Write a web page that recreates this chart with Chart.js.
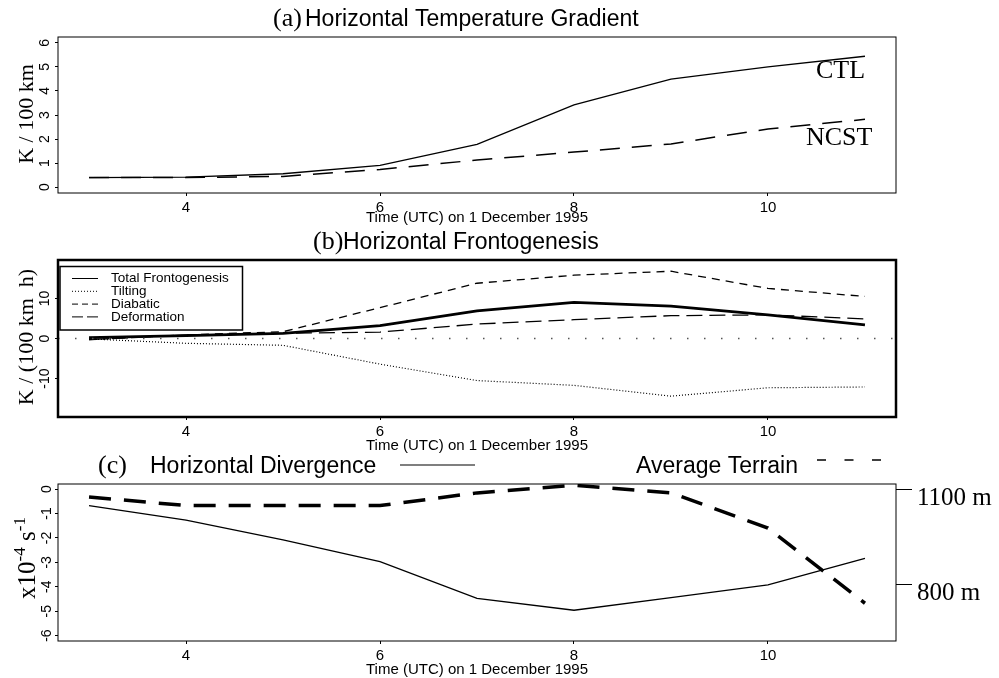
<!DOCTYPE html>
<html lang="en">
<head>
  <meta charset="UTF-8">
  <title>Horizontal temperature gradient, frontogenesis and divergence</title>
  <script src="https://cdn.jsdelivr.net/npm/chart.js"></script>
  <style>
    body { margin: 0; background: #fff; }
    .wrap { position: relative; width: 999px; height: 678px; overflow: hidden; }
    canvas { position: absolute; left: 0; }
  </style>
</head>
<body>
  <div class="wrap">
    <canvas id="chartA" width="999" height="225" style="top:0px"></canvas>
    <canvas id="chartB" width="999" height="228" style="top:225px"></canvas>
    <canvas id="chartC" width="999" height="232" style="top:445px"></canvas>
  </div>

  <script>
    // ---- data (hours UTC on 1 Dec 1995) ----
    const hours = [3, 4, 5, 6, 7, 8, 9, 10, 11];
    const xTicks = [4, 6, 8, 10];

    // (a) horizontal temperature gradient, K / 100 km
    const ctl  = [0.40, 0.42, 0.56, 0.91, 1.78, 3.42, 4.49, 5.00, 5.44];
    const ncst = [0.40, 0.40, 0.45, 0.74, 1.13, 1.46, 1.80, 2.42, 2.82];
    const ticksA = [0, 1, 2, 3, 4, 5, 6];

    // (b) frontogenesis terms
    const totalFront  = [0.2, 0.7, 1.3, 3.2, 6.9, 9.0, 8.1, 5.9, 3.4];
    const tilting     = [-0.1, -1.2, -1.7, -6.4, -10.5, -11.7, -14.4, -12.3, -12.1];
    const diabatic    = [-0.3, 0.9, 1.7, 7.7, 13.8, 15.8, 16.8, 12.5, 10.5];
    const deformation = [-0.3, 0.9, 1.3, 1.6, 3.6, 4.7, 5.7, 5.9, 4.9];
    const ticksB = [-10, 0, 10];

    // (c) divergence (x1e-4 s-1) and average terrain (m)
    const divergence = [-0.68, -1.27, -2.08, -2.97, -4.47, -4.96, -4.44, -3.92, -2.84];
    const terrain    = [1077, 1050, 1050, 1050, 1090, 1114, 1090, 979, 742];
    const ticksC = [0, -1, -2, -3, -4, -5, -6];
    const terrainTicks = [800, 1100];

    const X_MIN = 2.68, X_MAX = 11.32;
    const SANS = '"Liberation Sans", Arial, sans-serif';
    const SERIF = '"Liberation Serif", "Times New Roman", serif';

    const pts = ys => hours.map((h, i) => ({ x: h, y: ys[i] }));

    function line(label, ys, width, dash, extra) {
      return Object.assign({
        label: label,
        data: pts(ys),
        borderColor: '#000',
        borderWidth: width,
        borderDash: dash,
        pointRadius: 0,
        tension: 0,
        fill: false
      }, extra || {});
    }

    function xAxis(height) {
      return {
        type: 'linear', min: X_MIN, max: X_MAX,
        afterBuildTicks: s => { s.ticks = xTicks.map(v => ({ value: v })); },
        afterFit: s => { s.height = height; },
        grid: { drawOnChartArea: false, drawTicks: true, tickLength: 3, tickColor: '#000', tickWidth: 1 },
        border: { display: false },
        ticks: { color: '#000', font: { family: SANS, size: 15 }, padding: 3, maxRotation: 0, autoSkip: false },
        title: {
          display: true, text: 'Time (UTC) on 1 December 1995', color: '#000',
          font: { family: SANS, size: 15, lineHeight: 1 }, padding: 0
        }
      };
    }

    function yAxis(min, max, tickVals, width, position, tickLen) {
      return {
        type: 'linear', min: min, max: max, position: position || 'left',
        afterBuildTicks: s => { s.ticks = tickVals.map(v => ({ value: v })); },
        afterFit: s => { s.width = width; },
        grid: { drawOnChartArea: false, drawTicks: true, tickLength: tickLen || 3, tickColor: '#000', tickWidth: 1 },
        border: { display: false },
        ticks: { display: false }
      };
    }

    // draws a list of text runs, optionally rotated
    function drawRuns(ctx, item) {
      ctx.save();
      ctx.translate(item.x, item.y);
      if (item.rotate) ctx.rotate(item.rotate);
      ctx.textBaseline = item.baseline || 'alphabetic';
      ctx.textAlign = 'left';
      ctx.fillStyle = '#000';
      let total = 0;
      item.runs.forEach(r => { ctx.font = r.font; total += ctx.measureText(r.t).width; });
      let cx = item.align === 'center' ? -total / 2 : 0;
      item.runs.forEach(r => {
        ctx.font = r.font;
        ctx.fillText(r.t, cx, -(r.rise || 0));
        cx += ctx.measureText(r.t).width;
      });
      ctx.restore();
    }

    function strokeLine(ctx, x1, x2, y, dash, width) {
      ctx.save();
      ctx.strokeStyle = '#000';
      ctx.lineWidth = width;
      ctx.setLineDash(dash);
      ctx.beginPath();
      ctx.moveTo(x1, y);
      ctx.lineTo(x2, y);
      ctx.stroke();
      ctx.restore();
    }

    // R-style frame, rotated tick labels, titles and legends
    const decor = {
      id: 'decor',
      afterDraw(chart, args, opts) {
        const ctx = chart.ctx;
        const ca = chart.chartArea;

        ctx.save();
        ctx.strokeStyle = '#000';
        ctx.lineWidth = opts.frame;
        ctx.strokeRect(ca.left, ca.top, ca.right - ca.left, ca.bottom - ca.top);
        ctx.restore();

        if (opts.tickX) {
          const sc = chart.scales.y;
          ctx.save();
          ctx.font = '14px ' + SANS;
          ctx.fillStyle = '#000';
          ctx.textAlign = 'center';
          ctx.textBaseline = 'middle';
          sc.ticks.forEach(t => {
            ctx.save();
            ctx.translate(opts.tickX, sc.getPixelForValue(t.value));
            ctx.rotate(-Math.PI / 2);
            ctx.fillText(String(t.value), 0, 0);
            ctx.restore();
          });
          ctx.restore();
        }

        if (opts.rightTicks) {
          const sc = chart.scales.y2;
          ctx.save();
          ctx.font = '25px ' + SERIF;
          ctx.fillStyle = '#000';
          ctx.textAlign = 'left';
          ctx.textBaseline = 'alphabetic';
          sc.ticks.forEach(t => {
            ctx.fillText(t.value + ' m', opts.rightTicks.x, sc.getPixelForValue(t.value) + opts.rightTicks.dy);
          });
          ctx.restore();
        }

        if (opts.legend) {
          const L = opts.legend;
          ctx.save();
          ctx.fillStyle = '#fff';
          ctx.fillRect(L.x1, L.y1, L.x2 - L.x1, L.y2 - L.y1);
          ctx.strokeStyle = '#000';
          ctx.lineWidth = 1.5;
          ctx.strokeRect(L.x1, L.y1, L.x2 - L.x1, L.y2 - L.y1);
          ctx.font = '13.5px ' + SANS;
          ctx.fillStyle = '#000';
          ctx.textBaseline = 'middle';
          chart.data.datasets.filter(d => d.legendDash).forEach((d, i) => {
            const y = L.rowY + i * L.rowH;
            strokeLine(ctx, L.sx1, L.sx2, y, d.legendDash, 1);
            ctx.fillText(d.label, L.tx, y);
          });
          ctx.restore();
        }

        (opts.samples || []).forEach(s => strokeLine(ctx, s.x1, s.x2, s.y, s.dash, s.width));
        (opts.texts || []).forEach(t => drawRuns(ctx, t));
      }
    };

    const common = {
      responsive: false,
      animation: false,
      plugins: { legend: { display: false }, tooltip: { enabled: false } }
    };

    // ---- (a) ----
    new Chart(document.getElementById('chartA'), {
      type: 'line',
      data: {
        datasets: [
          line('CTL', ctl, 1.3, []),
          line('NCST', ncst, 1.5, [20, 12])
        ]
      },
      options: Object.assign({}, common, {
        layout: { padding: { top: 37, right: 103, bottom: 0, left: 0 } },
        scales: { x: xAxis(32), y: yAxis(-0.24, 6.24, ticksA, 58) },
        plugins: Object.assign({}, common.plugins, {
          decor: {
            frame: 1,
            tickX: 45,
            texts: [
              { x: 273, y: 26, runs: [{ t: '(a)', font: '26px ' + SERIF }] },
              { x: 305, y: 26, runs: [{ t: 'Horizontal Temperature Gradient', font: '23px ' + SANS }] },
              { x: 33, y: 114, rotate: -Math.PI / 2, align: 'center', runs: [{ t: 'K / 100 km', font: '22px ' + SERIF }] },
              { x: 816, y: 78, runs: [{ t: 'CTL', font: '26px ' + SERIF }] },
              { x: 806, y: 145, runs: [{ t: 'NCST', font: '26px ' + SERIF }] }
            ]
          }
        })
      }),
      plugins: [decor]
    });

    // ---- (b) ----
    new Chart(document.getElementById('chartB'), {
      type: 'line',
      data: {
        datasets: [
          line('', [0, 0], 1.3, [1.5, 15.5], { data: [{ x: X_MIN, y: 0 }, { x: X_MAX, y: 0 }], borderColor: '#555' }),
          line('Total Frontogenesis', totalFront, 2.8, [], { legendDash: [] }),
          line('Tilting', tilting, 1.2, [1, 2], { legendDash: [1, 2] }),
          line('Diabatic', diabatic, 1.3, [8, 6], { legendDash: [6, 4] }),
          line('Deformation', deformation, 1.3, [16, 7], { legendDash: [11, 4] })
        ]
      },
      options: Object.assign({}, common, {
        layout: { padding: { top: 35, right: 103, bottom: 0, left: 0 } },
        scales: { x: xAxis(36), y: yAxis(-19.6, 19.6, ticksB, 58) },
        plugins: Object.assign({}, common.plugins, {
          decor: {
            frame: 2.5,
            tickX: 45,
            legend: { x1: 60, y1: 41.5, x2: 242.5, y2: 105, sx1: 72, sx2: 98, tx: 111, rowY: 53.5, rowH: 12.8 },
            texts: [
              { x: 313, y: 24, runs: [{ t: '(b)', font: '26px ' + SERIF }] },
              { x: 343, y: 24, runs: [{ t: 'Horizontal Frontogenesis', font: '23px ' + SANS }] },
              { x: 33, y: 112, rotate: -Math.PI / 2, align: 'center', runs: [{ t: 'K / (100 km  h)', font: '22px ' + SERIF }] }
            ]
          }
        })
      }),
      plugins: [decor]
    });

    // ---- (c) ----
    new Chart(document.getElementById('chartC'), {
      type: 'line',
      data: {
        datasets: [
          line('Horizontal Divergence', divergence, 1.3, []),
          line('Average Terrain', terrain, 3.5, [22, 13], { yAxisID: 'y2' })
        ]
      },
      options: Object.assign({}, common, {
        layout: { padding: { top: 39, right: 0, bottom: 0, left: 0 } },
        scales: {
          x: xAxis(36),
          y: yAxis(-6.22, 0.21, ticksC, 58),
          y2: yAxis(623, 1118, terrainTicks, 103, 'right', 16)
        },
        plugins: Object.assign({}, common.plugins, {
          decor: {
            frame: 1,
            tickX: 47,
            rightTicks: { x: 917, dy: 15 },
            samples: [
              { x1: 400, x2: 475, y: 20, dash: [], width: 1.2 },
              { x1: 817, x2: 881, y: 15, dash: [9, 18.5], width: 1.5 }
            ],
            texts: [
              { x: 98, y: 28, runs: [{ t: '(c)', font: '26px ' + SERIF }] },
              { x: 150, y: 28, runs: [{ t: 'Horizontal Divergence', font: '23px ' + SANS }] },
              { x: 636, y: 28, runs: [{ t: 'Average Terrain', font: '23px ' + SANS }] },
              {
                x: 35, y: 113, rotate: -Math.PI / 2, align: 'center',
                runs: [
                  { t: 'x10', font: '25px ' + SERIF },
                  { t: '-4', font: '17px ' + SERIF, rise: 10 },
                  { t: ' s', font: '25px ' + SERIF },
                  { t: '-1', font: '17px ' + SERIF, rise: 10 }
                ]
              }
            ]
          }
        })
      }),
      plugins: [decor]
    });
  </script>
</body>
</html>
